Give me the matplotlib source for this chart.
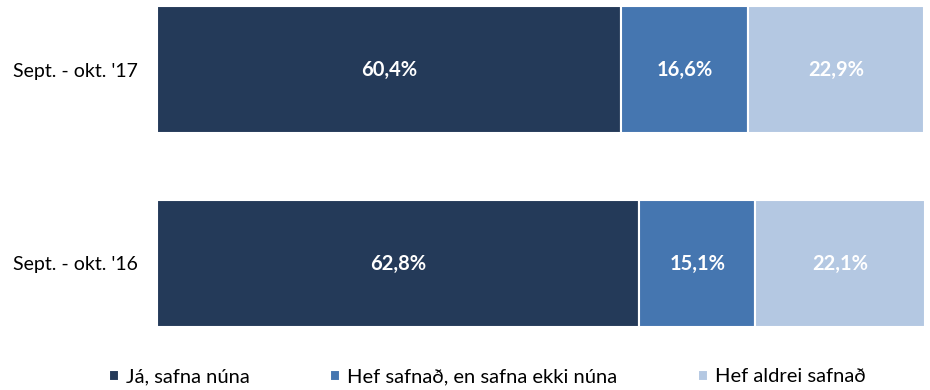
import matplotlib
matplotlib.use("Agg")
import matplotlib.pyplot as plt
import numpy as np

plt.rcParams['font.family'] = ['Lato', 'DejaVu Sans']

periods = ["Sept. - okt. '16", "Sept. - okt. '17"]
series_names = ["Já, safna núna", "Hef safnað, en safna ekki núna", "Hef aldrei safnað"]
ja_safna = [62.8, 60.4]
hef_safnad = [15.1, 16.6]
aldrei = [22.1, 22.9]
colors = ["#243A59", "#4576B0", "#B4C8E2"]

fig = plt.figure(figsize=(9.3, 3.9), dpi=100)
ax = fig.add_axes([157 / 930, 1 - 327 / 390, (925 - 157) / 930, (327 - 6) / 390])

bar_h = 0.655
y = np.arange(len(periods))
left = np.zeros(len(periods))
handles = []
for vals, name, col in zip([ja_safna, hef_safnad, aldrei], series_names, colors):
    vals = np.array(vals)
    b = ax.barh(y, vals, left=left, height=bar_h, color=col, edgecolor="white",
                linewidth=1.5, label=name)
    handles.append(b)
    for yi, l, v in zip(y, left, vals):
        ax.text(l + v / 2, yi, f"{v:.1f}%".replace(".", ","), ha="center", va="center",
                color="white", fontsize=14.5, fontweight="bold")
    left += vals

ax.set_xlim(0, left.max())
ax.set_ylim(-bar_h / 2, 1 + bar_h / 2)
ax.set_yticks(y)
ax.set_yticklabels(periods, fontsize=14, color="#000000")
ax.tick_params(axis="y", length=0, pad=14)
ax.set_xticks([])
for s in ax.spines.values():
    s.set_visible(False)

fig.legend(handles=handles, labels=series_names, loc="center", ncol=3,
           bbox_to_anchor=(0.524, 1 - 377 / 390), frameon=False, fontsize=14.5,
           handlelength=0.5, handleheight=0.5, handletextpad=0.35, columnspacing=4.0)

fig.savefig("out.png", dpi=100)
